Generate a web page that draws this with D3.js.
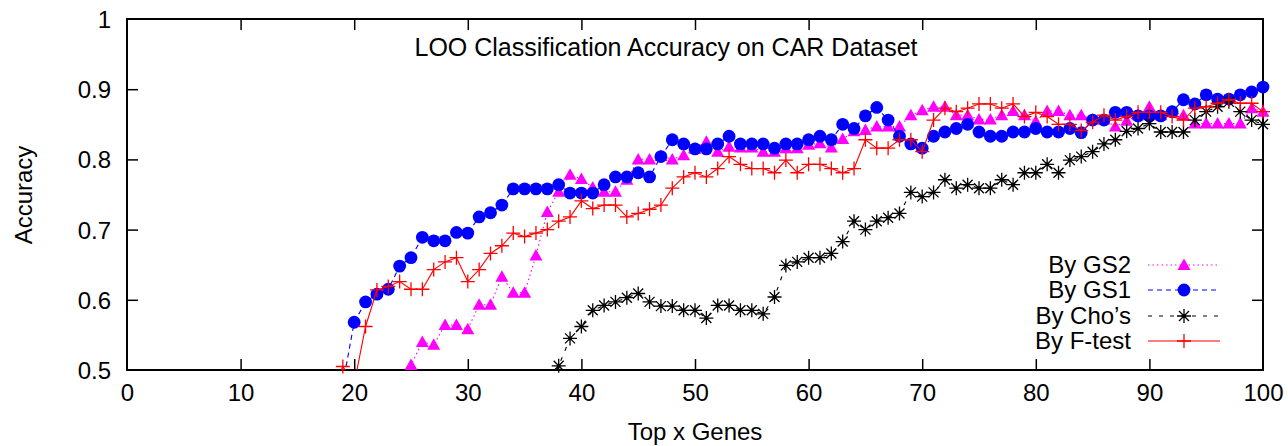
<!DOCTYPE html>
<html><head><meta charset="utf-8">
<script src="https://cdn.jsdelivr.net/npm/d3@7"></script>
<style>
html,body{margin:0;padding:0;background:#fff;}
svg text{font-family:"Liberation Sans",Arial,Helvetica,sans-serif;fill:#000;}
</style></head>
<body>
<svg id="chart" width="1288" height="446"></svg>
<script>
// ---------- data ----------
const firstGene = 18;   // x of first array entry; one value per gene count up to 100
const gs2 = [null,null,null,null,null,null,0.47,0.507,0.540,0.536,0.564,0.564,0.558,0.593,0.593,0.633,0.610,0.610,0.663,0.725,
  0.754,0.778,0.772,0.760,0.754,0.754,0.771,0.800,0.800,0.805,0.800,0.806,0.815,0.825,0.811,0.818,0.817,0.817,0.811,0.811,
  0.816,0.816,0.821,0.823,0.817,0.829,0.840,0.842,0.847,0.847,0.847,0.863,0.870,0.875,0.875,0.863,0.863,0.857,0.857,0.863,
  0.869,0.863,0.854,0.869,0.869,0.863,0.863,0.857,0.857,0.847,0.855,0.863,0.875,0.863,0.868,0.863,0.851,0.851,0.851,0.851,
  0.851,0.873,0.868];
const gs1 = [null,0.48,0.568,0.597,0.608,0.615,0.648,0.660,0.689,0.684,0.684,0.696,0.695,0.718,0.724,0.735,0.758,0.758,0.758,0.758,
  0.764,0.752,0.752,0.752,0.764,0.775,0.775,0.781,0.775,0.804,0.828,0.822,0.815,0.815,0.822,0.833,0.822,0.822,0.822,0.816,
  0.822,0.822,0.828,0.833,0.828,0.850,0.844,0.862,0.874,0.856,0.833,0.822,0.816,0.833,0.839,0.844,0.850,0.839,0.833,0.833,
  0.839,0.839,0.844,0.839,0.839,0.844,0.838,0.856,0.856,0.867,0.867,0.862,0.862,0.862,0.868,0.885,0.879,0.892,0.886,0.886,
  0.892,0.896,0.903];
const cho = [null,null,null,null,null,null,null,null,null,null,null,null,null,null,null,null,null,null,null,0.47,
  0.506,0.545,0.562,0.585,0.592,0.597,0.603,0.609,0.597,0.591,0.591,0.585,0.585,0.574,0.592,0.592,0.585,0.585,0.580,0.604,
  0.649,0.654,0.660,0.660,0.666,0.683,0.712,0.700,0.712,0.717,0.723,0.753,0.747,0.753,0.771,0.759,0.764,0.759,0.759,0.771,
  0.764,0.781,0.781,0.793,0.781,0.799,0.804,0.811,0.822,0.828,0.840,0.844,0.851,0.839,0.839,0.839,0.856,0.868,0.875,0.882,
  0.868,0.856,0.850];
const ftest = [0.47,0.505,0.48,0.562,0.614,0.619,0.626,0.615,0.615,0.643,0.654,0.660,0.626,0.643,0.666,0.677,0.695,0.690,0.695,0.700,
  0.712,0.718,0.741,0.730,0.735,0.735,0.718,0.723,0.729,0.735,0.759,0.775,0.781,0.775,0.787,0.804,0.793,0.787,0.787,0.781,
  0.799,0.781,0.793,0.793,0.787,0.781,0.787,0.828,0.816,0.816,0.828,0.828,0.811,0.856,0.873,0.868,0.873,0.879,0.879,0.873,
  0.879,0.861,0.867,0.861,0.850,0.850,0.841,0.853,0.863,0.856,0.861,0.867,0.867,0.867,0.861,0.856,0.873,0.875,0.880,0.885,
  0.880,0.880,0.868];
const seriesNames = ["By GS2","By GS1","By Cho\u2019s","By F-test"];
const xTicks = [0,10,20,30,40,50,60,70,80,90,100];
const yTicks = [0.5,0.6,0.7,0.8,0.9,1];
const titleText = "LOO Classification Accuracy on CAR Dataset";
const xLabel = "Top x Genes";
const yLabel = "Accuracy";

// ---------- layout ----------
const L = 127, R = 1263, T = 19, B = 370;
const svg = d3.select("#chart");
const x = d3.scaleLinear().domain([0,100]).range([L,R]);
const y = d3.scaleLinear().domain([0.5,1]).range([B,T]);

const series = [
  {name:seriesNames[0], vals:gs2, color:"#ff00ff", dash:"1.5,3", marker:"tri"},
  {name:seriesNames[1], vals:gs1, color:"#0000ff", dash:"5,4", marker:"circ"},
  {name:seriesNames[2], vals:cho, color:"#000000", dash:"4,7", marker:"star"},
  {name:seriesNames[3], vals:ftest, color:"#ff0000", dash:null, marker:"plus"}
].map(s => ({...s, pts: s.vals.map((v,i)=>({g:firstGene+i, v})).filter(p=>p.v!==null)}));

svg.append("defs").append("clipPath").attr("id","clip")
  .append("rect").attr("x",L).attr("y",T).attr("width",R-L).attr("height",B-T);

// axes (ticks inward on all four sides)
const fmtY = d => d===1 ? "1" : d3.format(".1f")(d);
const axB = svg.append("g").attr("transform",`translate(0,${B})`)
  .call(d3.axisBottom(x).tickValues(xTicks).tickSize(-11).tickPadding(14).tickFormat(d3.format("d")));
const axT = svg.append("g").attr("transform",`translate(0,${T})`)
  .call(d3.axisTop(x).tickValues(xTicks).tickSize(-11).tickFormat(""));
const axL = svg.append("g").attr("transform",`translate(${L},0)`)
  .call(d3.axisLeft(y).tickValues(yTicks).tickSize(-11).tickPadding(16).tickFormat(fmtY));
const axR = svg.append("g").attr("transform",`translate(${R},0)`)
  .call(d3.axisRight(y).tickValues(yTicks).tickSize(-11).tickFormat(""));
[axB,axT,axL,axR].forEach(a=>{
  a.select(".domain").remove();
  a.selectAll(".tick line").attr("stroke","#000").attr("stroke-width",1.5);
  a.selectAll(".tick text").attr("font-size",24).attr("font-family","Liberation Sans, Arial, sans-serif").attr("fill","#000");
});
axB.selectAll(".tick text").attr("dy","0.71em");
axL.selectAll(".tick text").attr("dy","0.35em");
// remove ticks coinciding with corners
axB.selectAll(".tick line").filter(d=>d===0||d===100).remove();
axT.selectAll(".tick line").filter(d=>d===0||d===100).remove();
axL.selectAll(".tick line").filter(d=>d===0.5||d===1).remove();
axR.selectAll(".tick line").filter(d=>d===0.5||d===1).remove();

// frame
svg.append("rect").attr("x",L).attr("y",T).attr("width",R-L).attr("height",B-T)
  .attr("fill","none").attr("stroke","#000").attr("stroke-width",2);

// markers
function drawMarker(g, type, color, cx, cy){
  if(type==="tri"){
    g.append("path").attr("d",`M${cx},${cy-6.5}L${cx+6.5},${cy+5}L${cx-6.5},${cy+5}Z`).attr("fill",color);
  } else if(type==="circ"){
    g.append("circle").attr("cx",cx).attr("cy",cy).attr("r",6.4).attr("fill",color);
  } else if(type==="star"){
    const r=7, d=5;
    g.append("path").attr("d",`M${cx-r},${cy}H${cx+r}M${cx},${cy-r}V${cy+r}M${cx-d},${cy-d}L${cx+d},${cy+d}M${cx-d},${cy+d}L${cx+d},${cy-d}`)
      .attr("stroke",color).attr("stroke-width",1.3).attr("fill","none");
    g.append("circle").attr("cx",cx).attr("cy",cy).attr("r",1.8).attr("fill",color);
  } else if(type==="plus"){
    const r=7;
    g.append("path").attr("d",`M${cx-r},${cy}H${cx+r}M${cx},${cy-r}V${cy+r}`)
      .attr("stroke",color).attr("stroke-width",1.3).attr("fill","none");
  }
}

const line = d3.line().x(p=>x(p.g)).y(p=>y(p.v));
series.forEach(s=>{
  const g = svg.append("g");
  g.append("path").attr("d",line(s.pts)).attr("clip-path","url(#clip)")
    .attr("fill","none").attr("stroke",s.color).attr("stroke-width",1.1)
    .attr("stroke-dasharray",s.dash);
  s.pts.filter(p=>p.v>=0.5).forEach(p=>drawMarker(g,s.marker,s.color,x(p.g),y(p.v)));
});

// legend
const legY = [265,290,316,341];
series.forEach((s,i)=>{
  const g = svg.append("g");
  g.append("text").attr("x",1131).attr("y",legY[i]).attr("dy","0.35em")
    .attr("text-anchor","end").attr("font-size",24).text(s.name);
  g.append("line").attr("x1",1148).attr("x2",1220).attr("y1",legY[i]).attr("y2",legY[i])
    .attr("stroke",s.color).attr("stroke-width",1.1).attr("stroke-dasharray",s.dash);
  drawMarker(g,s.marker,s.color,1184,legY[i]);
});

// titles
svg.append("text").attr("x",666).attr("y",47).attr("dy","0.35em").attr("text-anchor","middle")
  .attr("font-size",25).text(titleText);
svg.append("text").attr("x",695).attr("y",432).attr("dy","0.35em").attr("text-anchor","middle")
  .attr("font-size",24).text(xLabel);
svg.append("text").attr("transform","translate(24,195) rotate(-90)").attr("dy","0.35em")
  .attr("text-anchor","middle").attr("font-size",24).text(yLabel);
</script>
</body></html>
